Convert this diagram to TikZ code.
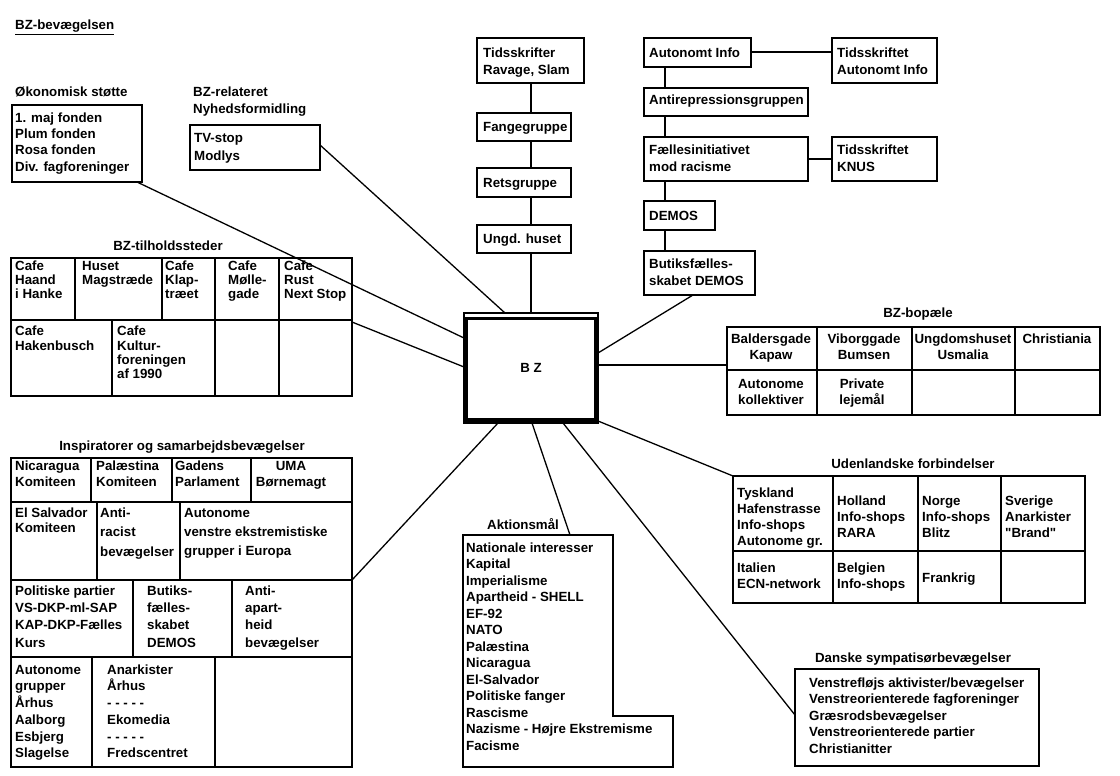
\documentclass[tikz,border=0pt]{standalone}
\usepackage{fontspec}
\setmainfont{Liberation Sans}[Ligatures=TeXOff]
\usetikzlibrary{calc}
\newcommand\sr{\rule{0pt}{10pt}}
\newcommand\fs[1]{\fontsize{13.3}{#1}\selectfont\bfseries}
\begin{document}
\begin{tikzpicture}[x=1pt,y=-1pt,
  bx/.style={draw, line width=1.8pt, inner sep=0pt, outer sep=0pt, anchor=north west},
  cn/.style={line width=1.3pt},
  tl/.style={line width=1.8pt},
  tx/.style={anchor=north west, inner sep=0pt, align=left},
  tc/.style={anchor=north, inner sep=0pt, align=center}]
\useasboundingbox (0,0) rectangle (1120,776);

% title
\node[tx, font={\fs{16}}] (title) at (15,19.5) {\sr\underline{BZ-bevægelsen}};

% Økonomisk støtte
\node[tx, font={\fs{16}}] (oekl) at (15,86.5) {\sr Økonomisk støtte};
\node[bx, minimum width=130pt, minimum height=77pt] (oek) at (12,105) {};
\node[tx, font={\fs{16.3}}] (oekt) at (15,112) {\sr 1. maj fonden\\Plum fonden\\Rosa fonden\\Div. fagforeninger};

% BZ-relateret
\node[tx, font={\fs{16.5}}] (bzrl) at (193,86.5) {\sr BZ-relateret\\Nyhedsformidling};
\node[bx, minimum width=130pt, minimum height=45pt] (tv) at (190,125) {};
\node[tx, font={\fs{18}}] (tvt) at (194,132) {\sr TV-stop\\Modlys};

% middle column
\node[bx, minimum width=107pt, minimum height=45pt] (tids) at (477,38) {};
\node[tx, font={\fs{17.5}}] (tidst) at (483,47) {\sr Tidsskrifter\\Ravage, Slam};
\node[bx, minimum width=94pt, minimum height=28pt] (fange) at (477,113) {};
\node[tx, font={\fs{16}}] (fanget) at (483,121) {\sr Fangegruppe};
\node[bx, minimum width=94pt, minimum height=29pt] (rets) at (477,168) {};
\node[tx, font={\fs{16}}] (retst) at (483,177) {\sr Retsgruppe};
\node[bx, minimum width=94pt, minimum height=28pt] (ungd) at (477,225) {};
\node[tx, font={\fs{16}}] (ungdt) at (483,233) {\sr Ungd. huset};

% right column
\node[bx, minimum width=107pt, minimum height=29pt] (auto) at (644,38) {};
\node[tx, font={\fs{16}}] (autot) at (649,47) {\sr Autonomt Info};
\node[bx, minimum width=105pt, minimum height=45pt] (tauto) at (832,38) {};
\node[tx, font={\fs{17.5}}] (tautot) at (837,47) {\sr Tidsskriftet\\Autonomt Info};
\node[bx, minimum width=164pt, minimum height=28pt] (anti) at (644,88) {};
\node[tx, font={\fs{16}}] (antit) at (649,94) {\sr Antirepressionsgruppen};
\node[bx, minimum width=164pt, minimum height=44pt] (faelles) at (644,137) {};
\node[tx, font={\fs{17}}] (faellest) at (649,144) {\sr Fællesinitiativet\\mod racisme};
\node[bx, minimum width=105pt, minimum height=44pt] (knus) at (832,137) {};
\node[tx, font={\fs{17}}] (knust) at (837,144) {\sr Tidsskriftet\\KNUS};
\node[bx, minimum width=71pt, minimum height=29pt] (demos) at (644,201) {};
\node[tx, font={\fs{16}}] (demost) at (649,210) {\sr DEMOS};
\node[bx, minimum width=111pt, minimum height=44pt] (butik) at (644,251) {};
\node[tx, font={\fs{17}}] (butikt) at (649,258) {\sr Butiksfælles-\\skabet DEMOS};

% BZ centre
\node[bx, line width=1.2pt, minimum width=134pt, minimum height=110pt] (bz) at (464,313) {};
\draw[line width=3.5pt] (466.5,318.3) rectangle (595.5,420);
\node[inner sep=0pt, font={\fs{16}}] (bzt) at (bz.center) {B Z};

% BZ-tilholdssteder
\node[tc, font={\fs{16}}] (tilll) at (168,240) {\sr BZ-tilholdssteder};
\node[bx, minimum width=341pt, minimum height=138pt] (till) at (11,258) {};
\draw[tl] (11,320) -- (352,320);
\foreach \x in {75,162,215,279} \draw[tl] (\x,258) -- (\x,320);
\foreach \x in {112,215,279} \draw[tl] (\x,320) -- (\x,396);
\node[tx, font={\fs{14.3}}] (t1) at (15,260) {\sr Cafe\\Haand\\i Hanke};
\node[tx, font={\fs{14.3}}] (t2) at (82,260) {\sr Huset\\Magstræde};
\node[tx, font={\fs{14.3}}] (t3) at (165,260) {\sr Cafe\\Klap-\\træet};
\node[tx, font={\fs{14.3}}] (t4) at (228,260) {\sr Cafe\\Mølle-\\gade};
\node[tx, font={\fs{14.3}}] (t5) at (284,260) {\sr Cafe\\Rust\\Next Stop};
\node[tx, font={\fs{14.3}}] (t6) at (15,325.5) {\sr Cafe\\Hakenbusch};
\node[tx, font={\fs{14.3}}] (t7) at (117,325.5) {\sr Cafe\\Kultur-\\foreningen\\af 1990};

% BZ-bopæle
\node[tc, font={\fs{16}}] (bopl) at (918,307) {\sr BZ-bopæle};
\node[bx, minimum width=373pt, minimum height=88pt] (bop) at (727,327) {};
\draw[tl] (727,370) -- (1100,370);
\foreach \x in {817,912,1015} \draw[tl] (\x,327) -- (\x,415);
\node[tc, font={\fs{16.7}}] (b1) at (771,333) {\sr Baldersgade\\Kapaw};
\node[tc, font={\fs{16.7}}] (b2) at (864,333) {\sr Viborggade\\Bumsen};
\node[tc, font={\fs{16.7}}] (b3) at (963,333) {\sr Ungdomshuset\\Usmalia};
\node[tc, font={\fs{16.7}}] (b4) at (1057,333) {\sr Christiania};
\node[tc, font={\fs{16.7}}] (b5) at (771,378) {\sr Autonome\\kollektiver};
\node[tc, font={\fs{16.7}}] (b6) at (862,378) {\sr Private\\lejemål};

% Inspiratorer
\node[tc, font={\fs{16}}] (inspl) at (182,440) {\sr Inspiratorer og samarbejdsbevægelser};
\node[bx, minimum width=341pt, minimum height=309pt] (insp) at (11,458) {};
\foreach \y in {502,580,657} \draw[tl] (11,\y) -- (352,\y);
\foreach \x in {91,172,251} \draw[tl] (\x,458) -- (\x,502);
\foreach \x in {97,180} \draw[tl] (\x,502) -- (\x,580);
\foreach \x in {133,232} \draw[tl] (\x,580) -- (\x,657);
\foreach \x in {92,215} \draw[tl] (\x,657) -- (\x,767);
\node[tx, font={\fs{16}}] (i1) at (15,460.5) {\sr Nicaragua\\Komiteen};
\node[tx, font={\fs{16}}] (i2) at (96,460.5) {\sr Palæstina\\Komiteen};
\node[tx, font={\fs{16}}] (i3) at (175,460.5) {\sr Gadens\\Parlament};
\node[tc, font={\fs{16}}] (i4) at (291,460.5) {\sr UMA\\Børnemagt};
\node[tx, font={\fs{15.5}}] (i5) at (15,507) {\sr El Salvador\\Komiteen};
\node[tx, font={\fs{19.5}}] (i6) at (100,507) {\sr Anti-\\racist\\bevægelser};
\node[tx, font={\fs{19.3}}] (i7) at (184,507) {\sr Autonome\\venstre ekstremistiske\\grupper i Europa};
\node[tx, font={\fs{17.3}}] (i8) at (15,585) {\sr Politiske partier\\VS-DKP-ml-SAP\\KAP-DKP-Fælles\\Kurs};
\node[tx, font={\fs{17.3}}] (i9) at (147,585) {\sr Butiks-\\fælles-\\skabet\\DEMOS};
\node[tx, font={\fs{17.3}}] (i10) at (245,585) {\sr Anti-\\apart-\\heid\\bevægelser};
\node[tx, font={\fs{16.7}}] (i11) at (15,664) {\sr Autonome\\grupper\\Århus\\Aalborg\\Esbjerg\\Slagelse};
\node[tx, font={\fs{16.7}}] (i12) at (107,664) {\sr Anarkister\\Århus\\- - - - -\\Ekomedia\\- - - - -\\Fredscentret};

% Aktionsmål
\node[tc, font={\fs{16}}] (aktl) at (523,518) {\sr Aktionsmål};
\draw[tl] (463,535) -- (613,535) -- (613,716) -- (673,716) -- (673,767) -- (463,767) -- cycle;
\coordinate (akttop) at (570,535);
\node[tx, font={\fs{16.5}}] (aktt) at (466,542) {\sr Nationale interesser\\Kapital\\Imperialisme\\Apartheid - SHELL\\EF-92\\NATO\\Palæstina\\Nicaragua\\El-Salvador\\Politiske fanger\\Rascisme\\Nazisme - Højre Ekstremisme\\Facisme};

% Udenlandske forbindelser
\node[tc, font={\fs{16}}] (udenl) at (913,458) {\sr Udenlandske forbindelser};
\node[bx, minimum width=352pt, minimum height=127pt] (uden) at (733,476) {};
\draw[tl] (733,551) -- (1085,551);
\foreach \x in {833,918,1001} \draw[tl] (\x,476) -- (\x,603);
\node[tx, font={\fs{16}}] (u1) at (737,487) {\sr Tyskland\\Hafenstrasse\\Info-shops\\Autonome gr.};
\node[tx, font={\fs{16}}] (u2) at (837,495) {\sr Holland\\Info-shops\\RARA};
\node[tx, font={\fs{16}}] (u3) at (922,495) {\sr Norge\\Info-shops\\Blitz};
\node[tx, font={\fs{16}}] (u4) at (1005,495) {\sr Sverige\\Anarkister\\"Brand"};
\node[tx, font={\fs{16.5}}] (u5) at (737,562) {\sr Italien\\ECN-network};
\node[tx, font={\fs{16.5}}] (u6) at (837,562) {\sr Belgien\\Info-shops};
\node[tx, font={\fs{16.5}}] (u7) at (922,572) {\sr Frankrig};

% Danske sympatisørbevægelser
\node[tc, font={\fs{16}}] (danl) at (913,652) {\sr Danske sympatisørbevægelser};
\node[bx, minimum width=244pt, minimum height=97pt] (dansk) at (795,669) {};
\node[tx, font={\fs{16.5}}] (danskt) at (809,677) {\sr Venstrefløjs aktivister/bevægelser\\Venstreorienterede fagforeninger\\Græsrodsbevægelser\\Venstreorienterede partier\\Christianitter};

% connectors
\draw[cn] (tids.south -| bz.north) -- (fange.north -| bz.north);
\draw[cn] (fange.south -| bz.north) -- (rets.north -| bz.north);
\draw[cn] (rets.south -| bz.north) -- (ungd.north -| bz.north);
\draw[cn] (ungd.south -| bz.north) -- (bz.north);
\draw[cn] ($(auto.south west)+(21,0)$) -- ($(anti.north west)+(21,0)$);
\draw[cn] ($(anti.south west)+(21,0)$) -- ($(faelles.north west)+(21,0)$);
\draw[cn] ($(faelles.south west)+(21,0)$) -- ($(demos.north west)+(21,0)$);
\draw[cn] ($(demos.south west)+(21,0)$) -- ($(butik.north west)+(21,0)$);
\draw[cn] ($(auto.north east)+(0,14)$) -- ($(tauto.north west)+(0,14)$);
\draw[cn] (faelles.east) -- (knus.west);
\draw[cn] ($(oek.south east)+(-5,0)$) -- ($(bz.north west)+(0,25)$);
\draw[cn] ($(tv.north east)+(0,20)$) -- ($(bz.north west)+(41,0)$);
\draw[cn] ($(till.north east)+(0,64)$) -- ($(bz.north west)+(0,54)$);
\draw[cn] ($(insp.north east)+(0,122)$) -- ($(bz.south west)+(34,0)$);
\draw[cn] (akttop) -- ($(bz.south west)+(68,0)$);
\draw[cn] ($(dansk.north west)+(0,46)$) -- ($(bz.south west)+(99,0)$);
\draw[cn] (uden.north west) -- ($(bz.south east)+(0,-2)$);
\draw[cn] ($(bz.north east)+(0,52)$) -- ($(bop.north west)+(0,38)$);
\draw[cn] ($(butik.south west)+(49,0)$) -- ($(bz.north east)+(0,40)$);
\end{tikzpicture}
\end{document}
